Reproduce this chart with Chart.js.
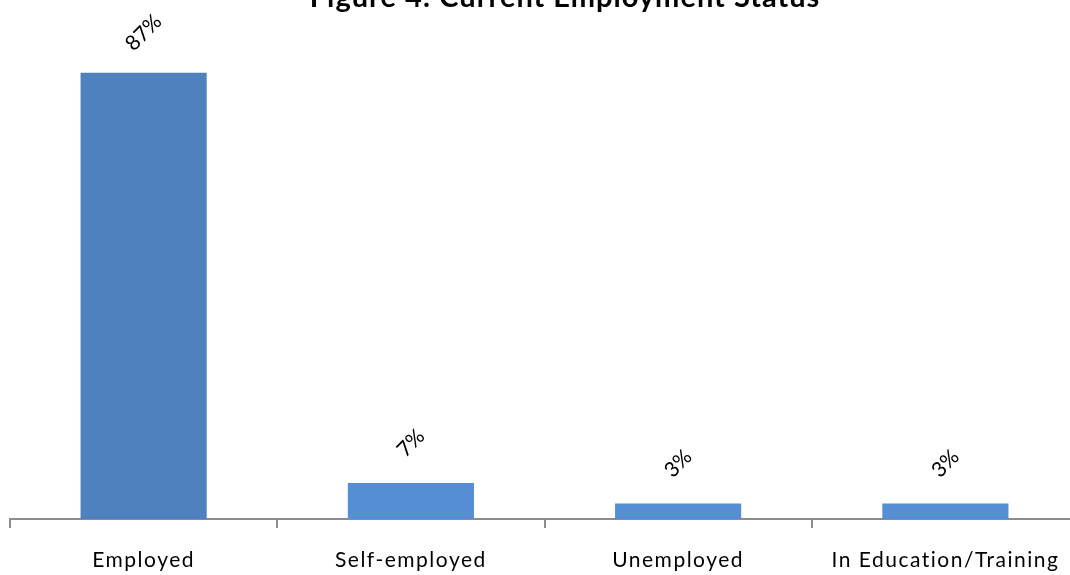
<!DOCTYPE html>
<html>
<head>
<meta charset="utf-8">
<script src="https://cdn.jsdelivr.net/npm/chart.js@4"></script>
<style>
  html, body { margin: 0; padding: 0; background: #fff; overflow: hidden; }
  #wrap { width: 1070px; height: 575px; overflow: hidden; }
</style>
</head>
<body>
<div id="wrap"><canvas id="grafico" width="1080" height="575"></canvas></div>
<script>
const categorias = ['Employed', 'Self-employed', 'Unemployed', 'In Education/Training'];
const porcentajes = [87, 7, 3, 3];
const coloresBarras = ['#4f81bd', '#558ed5', '#558ed5', '#558ed5'];
const titulo = 'Figure 4: Current Employment Status';

const fuente = 'Lato';

// titulo recortado en el borde superior
const pluginTitulo = {
  id: 'tituloArriba',
  afterDraw(chart) {
    const ctx = chart.ctx;
    ctx.save();
    ctx.letterSpacing = '1px';
    ctx.font = `bold 29px ${fuente}`;
    ctx.fillStyle = '#000';
    ctx.textAlign = 'center';
    ctx.textBaseline = 'alphabetic';
    ctx.fillText(titulo, 565, 7);
    ctx.restore();
  }
};

// espaciado de letras para las etiquetas del eje
const pluginEspaciado = {
  id: 'espaciado',
  beforeDraw(chart) {
    chart.ctx.letterSpacing = '1.5px';
  },
  beforeDatasetsDraw(chart) {
    chart.ctx.letterSpacing = '0px';
  }
};

// porcentajes girados sobre cada barra
const pluginEtiquetas = {
  id: 'etiquetas',
  afterDatasetsDraw(chart) {
    const ctx = chart.ctx;
    const meta = chart.getDatasetMeta(0);
    ctx.save();
    ctx.font = `21px ${fuente}`;
    ctx.fillStyle = '#000';
    ctx.textAlign = 'center';
    ctx.textBaseline = 'middle';
    meta.data.forEach((barra, i) => {
      ctx.save();
      ctx.translate(barra.x, barra.y - 40);
      ctx.rotate(-Math.PI / 4);
      ctx.fillText(porcentajes[i] + '%', 0, 0);
      ctx.restore();
    });
    ctx.restore();
  }
};

new Chart(document.getElementById('grafico'), {
  type: 'bar',
  data: {
    labels: categorias,
    datasets: [{
      data: porcentajes,
      backgroundColor: coloresBarras,
      borderWidth: 0,
      categoryPercentage: 1,
      barPercentage: 0.472
    }]
  },
  options: {
    responsive: false,
    animation: false,
    layout: { padding: { top: 6, left: 10, right: 1, bottom: 0 } },
    plugins: {
      legend: { display: false },
      title: { display: false },
      tooltip: { enabled: false }
    },
    scales: {
      x: {
        offset: true,
        afterFit: (escala) => { escala.height = 56; },
        grid: {
          offset: true,
          drawOnChartArea: false,
          drawTicks: true,
          tickLength: 9,
          color: '#8c8c8c',
          lineWidth: 2
        },
        border: { display: true, color: '#8c8c8c', width: 2 },
        ticks: {
          color: '#000',
          padding: 20,
          font: { family: fuente, size: 21 },
          maxRotation: 0,
          autoSkip: false
        }
      },
      y: {
        display: false,
        min: 0,
        max: 100
      }
    }
  },
  plugins: [pluginEspaciado, pluginEtiquetas, pluginTitulo]
});
</script>
</body>
</html>
